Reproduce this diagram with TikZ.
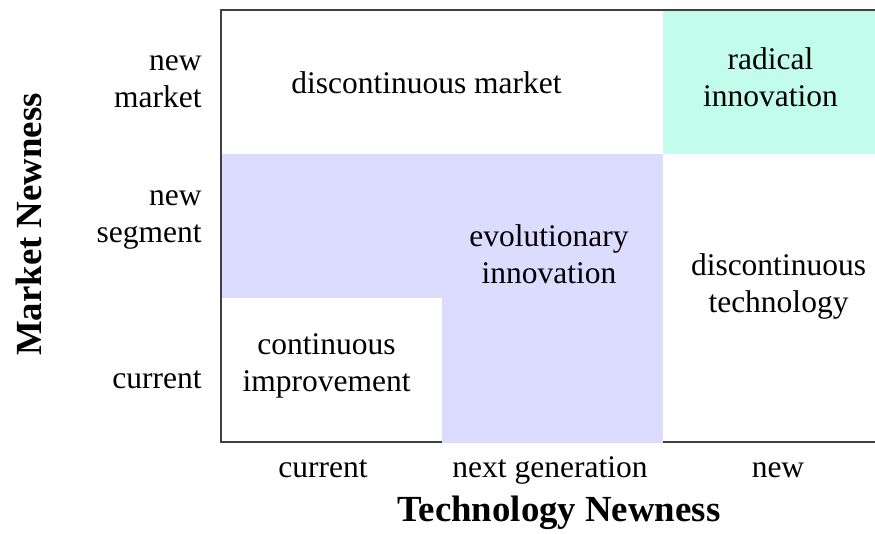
\documentclass[tikz,border=0pt]{standalone}
\usepackage{fontspec}
\setmainfont{Liberation Serif}
\definecolor{evolfill}{RGB}{220,220,255}
\definecolor{radfill}{RGB}{194,253,236}
\begin{document}
\begin{tikzpicture}[
x=0.5pt, y=-0.5pt,
celltext/.style={
  align=center,
  anchor=base,
  inner sep=0pt,
  font=\fontsize{15.75}{18.5}\selectfont
  },
rowtext/.style={celltext, align=right, anchor=base east},
axistext/.style={
  anchor=base,
  inner sep=0pt,
  font=\fontsize{18.4}{22}\selectfont\bfseries
  }
]
\useasboundingbox (0,0) rectangle (875,534);
\coordinate (tl) at (221,10);
\coordinate (bl) at (221,442);
\coordinate (tr) at (875,10);
\coordinate (br) at (875,442);
\draw[line width=1pt, black!75] (tr) -- (tl) -- (bl) -- (br);
\fill[evolfill] (222,154) rectangle (663,298);
\fill[evolfill] (442,154) rectangle (663,443.5);
\fill[radfill] (663,11) rectangle (875,154);
% cells (base = last line)
\node[celltext] (dmarket) at (426.5,94) {discontinuous market};
\node[celltext] (radical) at (770.5,107) {radical\\innovation};
\node[celltext] (evol) at (549,284) {evolutionary\\innovation};
\node[celltext] (dtech) at (778.5,313) {discontinuous\\technology};
\node[celltext] (cont) at (326.5,392) {continuous\\improvement};
% axes
\node[rowtext] (newmarket) at (202,108) {new\\market};
\node[rowtext] (newseg) at (202,243) {new\\segment};
\node[rowtext] (curmarket) at (202,389) {current};
\foreach \Name/\X/\Text in {cur/323/current,next/550/next generation,new/778/new}
  \node[celltext] (tech-\Name) at (\X,478) {\Text};
\node[axistext] (technew) at (559,522) {Technology Newness};
\node[axistext, rotate=90] (marketnew) at (41,224.5) {Market Newness};
\end{tikzpicture}
\end{document}
